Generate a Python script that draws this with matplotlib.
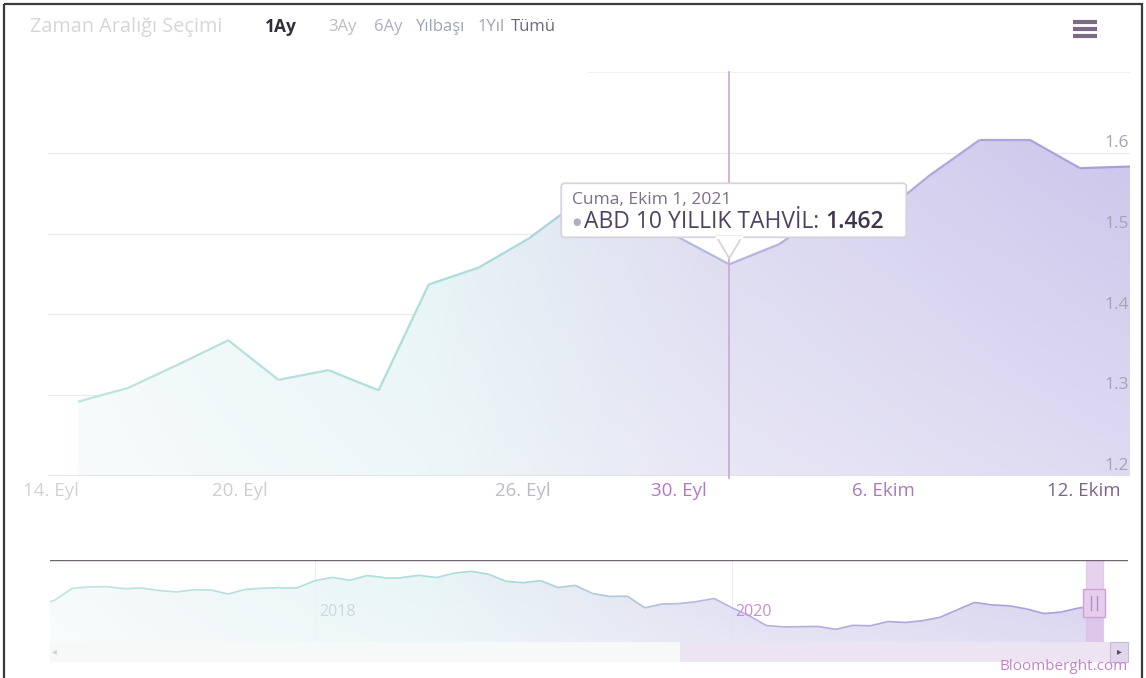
import numpy as np
import matplotlib.pyplot as plt
from matplotlib.collections import LineCollection
from matplotlib.colors import to_rgb
from matplotlib.patches import Rectangle, Polygon, FancyBboxPatch

plt.rcParams['font.family'] = ['Open Sans', 'DejaVu Sans']

W, H = 1146, 678

# ABD 10 yillik tahvil, 1 aylik (islem gunleri, ordinal eksen)
dates = ["14.09", "15.09", "16.09", "17.09", "20.09", "21.09", "22.09", "23.09",
         "24.09", "27.09", "28.09", "29.09", "30.09", "01.10", "04.10", "05.10",
         "06.10", "07.10", "08.10", "11.10", "12.10", "13.10"]
yields = [1.292, 1.309, 1.338, 1.368, 1.319, 1.331, 1.306, 1.437,
          1.458, 1.494, 1.540, 1.533, 1.495, 1.462, 1.487, 1.530,
          1.522, 1.572, 1.616, 1.616, 1.581, 1.583]

tick_labels = ["14. Eyl", "20. Eyl", "26. Eyl", "30. Eyl", "6. Ekim", "12. Ekim"]
tick_at = [-0.55, 3.24, 8.88, 12, 16.08, 20.08]
tick_colors = ["#cfd3d6", "#cbcfd3", "#b9bcc8", "#b477c4", "#a67cbc", "#7a6688"]
y_ticks = [1.2, 1.3, 1.4, 1.5, 1.6]

hover_idx = 13
tooltip_date = "Cuma, Ekim 1, 2021"
series_name = "ABD 10 YILLIK TAHVİL"

# navigator: aylik kapanislar, Eylul 2016 - Ekim 2021
nav_start = 2016 + 8 / 12
nav_values = [1.60, 1.84, 2.37, 2.44,
              2.45, 2.36, 2.39, 2.28, 2.21, 2.31, 2.30, 2.12, 2.33, 2.38, 2.41, 2.41,
              2.72, 2.87, 2.74, 2.95, 2.86, 2.86, 2.96, 2.86, 3.06, 3.14, 3.01, 2.69,
              2.63, 2.72, 2.41, 2.51, 2.14, 2.01, 2.02, 1.50, 1.67, 1.69, 1.78, 1.92,
              1.51, 1.15, 0.70, 0.64, 0.65, 0.66, 0.53, 0.71, 0.69, 0.88, 0.84, 0.92,
              1.07, 1.41, 1.74, 1.63, 1.59, 1.45, 1.24, 1.31, 1.49, 1.58]
nav_labels = ["2018", "2020"]
nav_label_years = [2018, 2020]
nav_label_colors = ["#c9d9d9", "#c58fd2"]

menu = ["Zaman Aralığı Seçimi", "1Ay", "3Ay", "6Ay", "Yılbaşı", "1Yıl", "Tümü"]
menu_x = [30, 265, 328, 374, 416, 478, 511]
menu_size = [14.3, 12.5, 12, 12, 12, 12, 12]
menu_colors = ["#d3d7db", "#2f2f3c", "#b9bdc6", "#a9b0c2", "#9ba5ba", "#a3a3ba", "#6f6680"]

stops = [(0.0, "#f3f9f9"), (0.35, "#e2f2f3"), (0.6, "#d9d8ef"), (1.0, "#c9c2ea")]
line_stops = [(0.0, "#bfe3e0"), (0.4, "#a9dcd9"), (0.65, "#b7b0de"), (1.0, "#ab9ad8")]


def ramp(stops, t):
    pos = [s[0] for s in stops]
    cols = np.array([to_rgb(s[1]) for s in stops])
    return np.stack([np.interp(t, pos, cols[:, k]) for k in range(3)], axis=-1)


def gradient_fill(ax, x, y, base, fade, alpha=1.0):
    poly = ax.fill_between(x, y, base, color='none', lw=0)
    x0, x1 = ax.get_xlim()
    y0, y1 = ax.get_ylim()
    cols = ramp(stops, np.linspace(0, 1, 300))
    v = np.linspace(0, 1, 150)[:, None, None]
    w = fade + (1 - fade) * v
    img = cols[None, :, :] * w + (1 - w)
    im = ax.imshow(img, extent=[x0, x1, y0, y1], origin='lower', aspect='auto',
                   zorder=1, alpha=alpha, interpolation='bilinear')
    im.set_clip_path(poly.get_paths()[0], transform=ax.transData)


def gradient_line(ax, x, y, lw):
    pts = np.column_stack([x, y])
    segs = np.stack([pts[:-1], pts[1:]], axis=1)
    x0, x1 = ax.get_xlim()
    t = (np.asarray(x[:-1]) - x0) / (x1 - x0)
    lc = LineCollection(segs, colors=ramp(line_stops, np.clip(t, 0, 1)), lw=lw, zorder=3)
    ax.add_collection(lc)


fig = plt.figure(figsize=(W / 100, H / 100), dpi=100)

# ana grafik
ax = fig.add_axes([48 / W, 1 - 476 / H, (1130 - 48) / W, (476 - 72) / H])
ax.set_xlim(-0.6, 21.0)
ax.set_ylim(1.2, 1.7)
ax.axis('off')
xs = np.arange(len(yields))
gradient_fill(ax, xs, yields, 1.2, fade=0.6)
gradient_line(ax, xs, yields, 1.6)
for v in y_ticks:
    ax.axhline(v, color='#ececf0', lw=0.9, zorder=0)
    ax.annotate(f"{v:.1f}", xy=(1, v), xycoords=('axes fraction', 'data'),
                xytext=(-1, 7), textcoords='offset points', ha='right', va='center',
                fontsize=12.5, color='#a7a3b3', zorder=5)
ax.axhline(1.2, color='#e2dfe8', lw=1.2, zorder=2)
ax.axhline(1.7, xmin=0.5, color='#ececf0', lw=1.2, zorder=0)
for lbl, pos, c in zip(tick_labels, tick_at, tick_colors):
    ax.annotate(lbl, xy=(pos, 0), xycoords=('data', 'axes fraction'),
                xytext=(0, -11), textcoords='offset points', ha='center', va='center',
                fontsize=13.5, color=c, annotation_clip=False)
ax.axvline(hover_idx, ymin=-0.005, ymax=1, color='#cda6d2', lw=1.2, zorder=4, clip_on=False)

# navigator
nav = fig.add_axes([50 / W, 1 - 642 / H, (1128 - 50) / W, (642 - 560) / H])
nav_x = nav_start + np.arange(len(nav_values)) / 12
nav_end = 2021 + 9.4 / 12
nav_x = np.append(nav_x, nav_end)
nav_y = np.append(nav_values, yields[-1])
slope = (1103 - 315) / (nav_end - 2018)
nav.set_xlim(2018 - (315 - 50) / slope, nav_end + (1128 - 1103) / slope)
nav.set_ylim(-0.04, 3.65)
nav.axis('off')
gradient_fill(nav, nav_x, nav_y, -0.04, fade=0.75, alpha=0.8)
gradient_line(nav, nav_x, nav_y, 1.2)
nav.axhline(3.65, color='#6d6470', lw=1.0, zorder=5)
for lbl, yr, c in zip(nav_labels, nav_label_years, nav_label_colors):
    nav.axvline(yr, color='#eeeef2', lw=0.8, zorder=0)
    nav.annotate(lbl, xy=(yr, 0.37), xycoords=('data', 'axes fraction'),
                 xytext=(3, 0), textcoords='offset points', ha='left', va='center',
                 fontsize=11.5, color=c, zorder=6)
nav.axvspan(nav_end - 1 / 12, nav_end, color='#dcbfe6', alpha=0.7, zorder=4)

# ust katman: menu, tooltip, scrollbar
ov = fig.add_axes([0, 0, 1, 1], zorder=10)
ov.set_xlim(0, W)
ov.set_ylim(H, 0)
ov.axis('off')
ov.add_patch(Rectangle((4, 4), W - 8, H, fill=False, ec='#3a3a40', lw=1.6))

for t, x, s, c in zip(menu, menu_x, menu_size, menu_colors):
    ov.text(x, 27, t, fontsize=s, color=c, va='center', ha='left',
            fontweight='bold' if t == "1Ay" else 'normal')
for yy in (22, 29, 36):
    ov.plot([1073, 1097], [yy, yy], color='#7c6a86', lw=3, solid_capstyle='butt')

px, py = ax.transData.transform((hover_idx, yields[hover_idx]))
py = H - py
bx0, bx1, by0, by1 = px - 168, px + 177, py - 81, py - 27
ov.add_patch(FancyBboxPatch((bx0, by0), bx1 - bx0, by1 - by0,
                            boxstyle='round,pad=0,rounding_size=3',
                            fc='white', ec='#d6d2de', lw=1.3, zorder=5))
ov.add_patch(Polygon([(px - 13, by1 - 1), (px, py - 6), (px + 13, by1 - 1)],
                     closed=True, fc='white', ec='#d6d2de', lw=1.3, zorder=5))
ov.plot([px - 12, px + 12], [by1, by1], color='white', lw=2.5, zorder=6)
ov.text(bx0 + 11, by0 + 17, tooltip_date, fontsize=12.5, color='#7d6e8c',
        va='center', ha='left', zorder=7)
ov.text(bx0 + 11, by0 + 39, "●", fontsize=7, color='#b4aac4', va='center', ha='left', zorder=7)
t1 = ov.text(bx0 + 23, by0 + 39, series_name + ": ", fontsize=16.5, color='#4f4262',
             va='center', ha='left', zorder=7)
ov.annotate(f"{yields[hover_idx]:.3f}", xy=(1, 0.5), xycoords=t1, ha='left', va='center',
            fontsize=16.5, color='#3f3450', fontweight='semibold', zorder=7)

# scrollbar
ov.add_patch(Rectangle((50, 642), 630, 20, fc='#f7f9f9', ec='none', zorder=1))
ov.add_patch(Rectangle((680, 642), 448, 20, fc='#ece4f3', ec='none', zorder=1))
ov.add_patch(Rectangle((1110, 642), 18, 20, fc='#e2d6ec', ec='#cbb8d8', lw=0.8, zorder=2))
ov.text(1119, 652, "▸", fontsize=7, color='#55505a', ha='center', va='center', zorder=3)
ov.text(54, 652, "◂", fontsize=7, color='#d0d0d4', ha='center', va='center', zorder=3)

# navigator tutamaci
hx, _ = nav.transData.transform((nav_end - 1 / 24, 0))
ov.add_patch(Rectangle((hx - 11, 589), 22, 28, fc='#e6cdee', ec='#c9a3d6', lw=1.0, zorder=4))
ov.plot([hx - 3, hx - 3], [596, 610], color='#b48cc4', lw=1, zorder=5)
ov.plot([hx + 3, hx + 3], [596, 610], color='#b48cc4', lw=1, zorder=5)

ov.text(1128, 666, "Bloomberght.com", fontsize=11, color='#c67fcc', ha='right', va='center')

fig.savefig("out.png", dpi=100)
